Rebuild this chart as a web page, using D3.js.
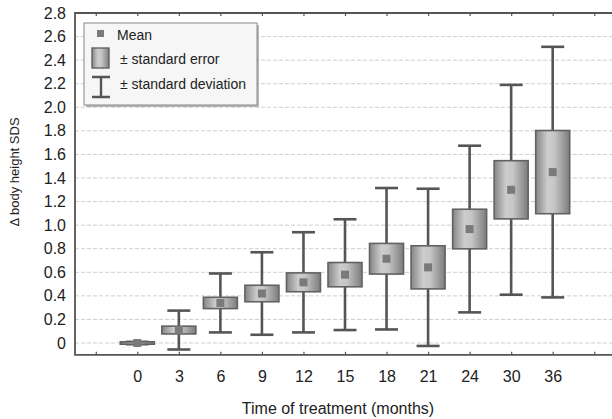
<!DOCTYPE html>
<html><head><meta charset="utf-8">
<script src="https://cdn.jsdelivr.net/npm/d3@7"></script>
<style>
html,body{margin:0;padding:0;background:#fff;}
svg{display:block;font-family:"Liberation Sans",Arial,sans-serif;}
</style></head>
<body><svg id="c" width="612" height="419"></svg>
<script>
const categories = ["0","3","6","9","12","15","18","21","24","30","36"];
const means = [0.0, 0.11, 0.34, 0.42, 0.515, 0.58, 0.715, 0.642, 0.967, 1.30, 1.45];
const stdErr = [0.01, 0.033, 0.048, 0.07, 0.08, 0.103, 0.13, 0.183, 0.168, 0.247, 0.353];
const stdDev = [0.01, 0.165, 0.25, 0.35, 0.425, 0.47, 0.60, 0.667, 0.707, 0.89, 1.063];
const yTicks = [0,0.2,0.4,0.6,0.8,1.0,1.2,1.4,1.6,1.8,2.0,2.2,2.4,2.6,2.8];
const legendLabels = ["Mean","\u00b1 standard error","\u00b1 standard deviation"];

const svg = d3.select("#c");
const L=75, R=615, T=13, B=354.8;
const x = d3.scaleLinear().domain([-1.5, 11.5]).range([L, R]);
const y = d3.scaleLinear().domain([-0.1, 2.8]).range([B, T]);
const slotTicks = d3.range(-1, 12);
const lab = i => (i>=0 && i<categories.length) ? categories[i] : "";

const defs = svg.append("defs");
const g = defs.append("linearGradient").attr("id","boxg").attr("x1","0").attr("x2","1").attr("y1","0").attr("y2","0");
[["0%","#858585"],["35%","#cdcdcd"],["55%","#c6c6c6"],["100%","#7c7c7c"]].forEach(s=>g.append("stop").attr("offset",s[0]).attr("stop-color",s[1]));

// gridlines
svg.append("g").selectAll("line").data(yTicks.filter(v=>v<2.79)).join("line")
  .attr("x1",L).attr("x2",612).attr("y1",d=>y(d)).attr("y2",d=>y(d))
  .attr("stroke","#cfcfcf").attr("stroke-width",1).attr("stroke-dasharray","4,2");

// bottom axis
const xa = svg.append("g").attr("transform",`translate(0,${y(-0.1)})`)
  .call(d3.axisBottom(x).tickValues(slotTicks).tickFormat(lab).tickSize(-3).tickPadding(16));
xa.select(".domain").remove();
xa.selectAll(".tick line").attr("stroke","#555").attr("stroke-width",1.2);
xa.selectAll("text").attr("font-size",16).attr("fill","#222");
// top axis ticks
const xt = svg.append("g").attr("transform",`translate(0,${y(2.8)})`)
  .call(d3.axisTop(x).tickValues(slotTicks).tickFormat("").tickSize(-3));
xt.select(".domain").remove();
xt.selectAll(".tick line").attr("stroke","#555").attr("stroke-width",1.2);

// left axis
const ya = svg.append("g").attr("transform",`translate(${L},0)`)
  .call(d3.axisLeft(y).tickValues(yTicks).tickFormat(d=>d===0?"0":d.toFixed(1)).tickSize(0).tickPadding(9));
ya.select(".domain").remove();
ya.selectAll("text").attr("font-size",16).attr("fill","#222");

// frame
svg.append("path").attr("d",`M612,${y(2.8)}H${L}V${y(-0.1)}H612`)
  .attr("fill","none").attr("stroke","#555").attr("stroke-width",1.8);

// whiskers and boxes
const boxW = 34, capW = 23;
const data = categories.map((c,i)=>({i, m:means[i], se:stdErr[i], sd:stdDev[i]}));
const grp = svg.append("g");
const it = grp.selectAll("g").data(data).join("g");
it.append("line").attr("x1",d=>x(d.i)).attr("x2",d=>x(d.i))
  .attr("y1",d=>y(d.m+d.sd)).attr("y2",d=>y(d.m-d.sd)).attr("stroke","#555").attr("stroke-width",2.6);
it.append("line").attr("x1",d=>x(d.i)-capW/2).attr("x2",d=>x(d.i)+capW/2)
  .attr("y1",d=>y(d.m+d.sd)).attr("y2",d=>y(d.m+d.sd)).attr("stroke","#555").attr("stroke-width",2.6);
it.append("line").attr("x1",d=>x(d.i)-capW/2).attr("x2",d=>x(d.i)+capW/2)
  .attr("y1",d=>y(d.m-d.sd)).attr("y2",d=>y(d.m-d.sd)).attr("stroke","#555").attr("stroke-width",2.6);
it.append("rect").attr("x",d=>x(d.i)-boxW/2).attr("width",boxW)
  .attr("y",d=>y(d.m+d.se)).attr("height",d=>Math.max(1,y(d.m-d.se)-y(d.m+d.se)))
  .attr("fill","url(#boxg)").attr("stroke","#626262").attr("stroke-width",1.6);
it.append("rect").attr("x",d=>x(d.i)-4).attr("y",d=>y(d.m)-4).attr("width",8).attr("height",8)
  .attr("fill","#7a7a7a");

// legend
const lg = svg.append("g");
lg.append("rect").attr("x",86).attr("y",25).attr("width",173).attr("height",82).attr("fill","#8a8a8a").attr("opacity",0.6);
lg.append("rect").attr("x",84).attr("y",23).attr("width",173).attr("height",82).attr("fill","#f6f6f6").attr("stroke","#888").attr("stroke-width",1);
lg.append("rect").attr("x",97).attr("y",30).attr("width",7).attr("height",7).attr("fill","#7a7a7a");
lg.append("rect").attr("x",92).attr("y",48).attr("width",17).attr("height",20).attr("fill","url(#boxg)").attr("stroke","#626262").attr("stroke-width",1.4);
lg.append("path").attr("d","M92,77H110M101,77V97M92,97H110").attr("stroke","#555").attr("stroke-width",2.4).attr("fill","none");
const ly=[40,64,89], lx=[117,120,120];
lg.selectAll("text.l").data(legendLabels).join("text").attr("class","l")
  .attr("x",(d,i)=>lx[i]).attr("y",(d,i)=>ly[i]).attr("font-size",14).attr("fill","#222").text(d=>d);

// axis titles
svg.append("text").attr("x",338).attr("y",414).attr("text-anchor","middle")
  .attr("font-size",16).attr("fill","#222").text("Time of treatment (months)");
svg.append("text").attr("transform","translate(19,172) rotate(-90)").attr("text-anchor","middle")
  .attr("font-size",13).attr("fill","#222").text("\u0394 body height SDS");
</script></body></html>
